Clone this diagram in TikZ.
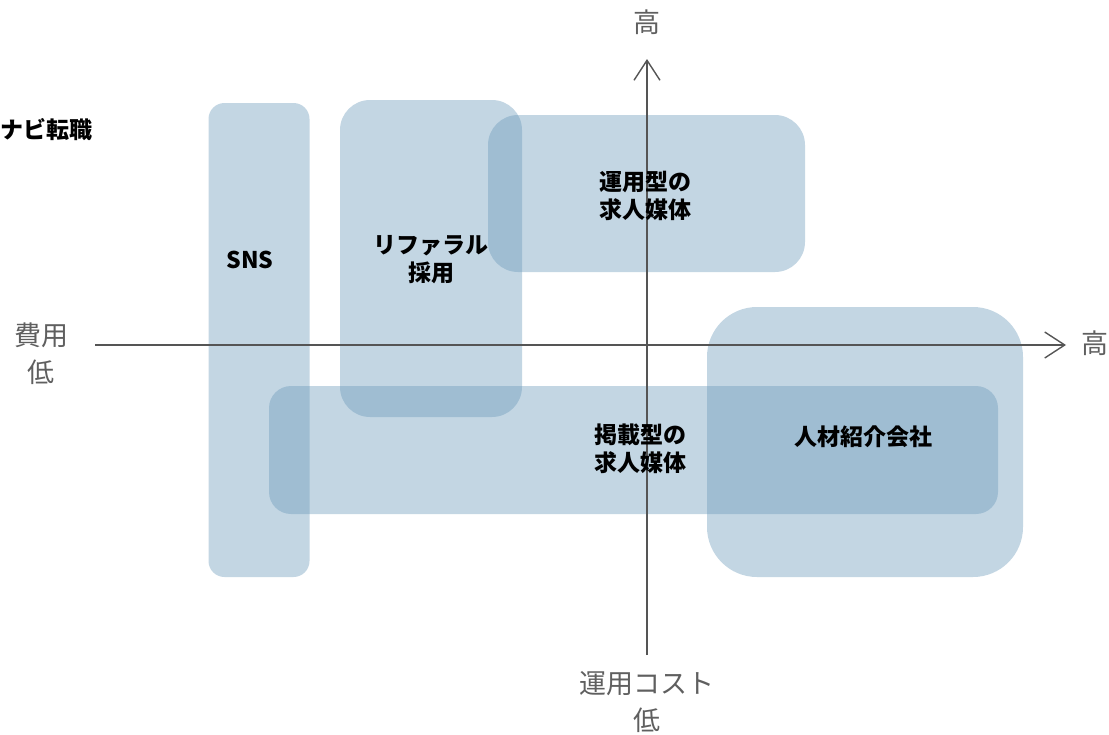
\documentclass[tikz,border=0pt]{standalone}
\usepackage{fontspec}
\setmainfont{Noto Sans CJK JP}
\usetikzlibrary{arrows.meta}
\definecolor{boxblue}{RGB}{105,152,185}
\definecolor{axisgray}{RGB}{85,85,85}
\definecolor{labelgray}{RGB}{95,95,95}
\tikzset{
  zone/.style={fill=boxblue, fill opacity=0.4, draw=none, inner sep=0pt, outer sep=0pt},
  axis/.style={draw=axisgray, line width=1.4pt, -{Straight Barb[length=20pt,width=26pt,line width=1.4pt]}},
  zlabel/.style={font=\fontsize{23}{28}\selectfont\bfseries, text=black, align=center, inner sep=0pt},
  alabel/.style={font=\fontsize{27}{37}\selectfont, text=labelgray, align=center, inner sep=0pt}
}
\begin{document}
\begin{tikzpicture}[x=1pt,y=-1pt]
\useasboundingbox (0,0) rectangle (1109,734);
% zones
\node[zone, rounded corners=16pt, minimum width=101pt, minimum height=474pt] (sns) at (259,340) {};
\node[zone, rounded corners=30pt, minimum width=182pt, minimum height=317pt] (ref) at (431,258.5) {};
\node[zone, rounded corners=30pt, minimum width=317pt, minimum height=157pt] (unyo) at (646.5,193.5) {};
\node[zone, rounded corners=50pt, minimum width=316pt, minimum height=270pt] (jinzai) at (865,442) {};
\node[zone, rounded corners=22pt, minimum width=729pt, minimum height=128pt] (keisai) at (633.5,450) {};
% axes
\coordinate (xs) at (95,345);
\coordinate (xe) at (1066,345);
\coordinate (ys) at (647,655);
\coordinate (ye) at (647,59);
\draw[axis] (xs) -- (xe);
\draw[axis] (ys) -- (ye);
% axis labels
\node[alabel] (ytop) at (647,22) {高};
\node[alabel] (xleft) at (41,354) {費用\\低};
\node[alabel] (xright) at (1095,343) {高};
\node[alabel] (ybot) at (647,702) {運用コスト\\低};
% zone labels
\node[zlabel, anchor=east] (navi) at (93,130) {ナビ転職};
\node[zlabel] (snsl) at (250,260) {SNS};
\node[zlabel] (refl) at (431,260) {リファラル\\採用};
\node[zlabel] (unyol) at (645,196) {運用型の\\求人媒体};
\node[zlabel] (keisail) at (640,449) {掲載型の\\求人媒体};
\node[zlabel] (jinzail) at (863,437) {人材紹介会社};
\end{tikzpicture}
\end{document}
